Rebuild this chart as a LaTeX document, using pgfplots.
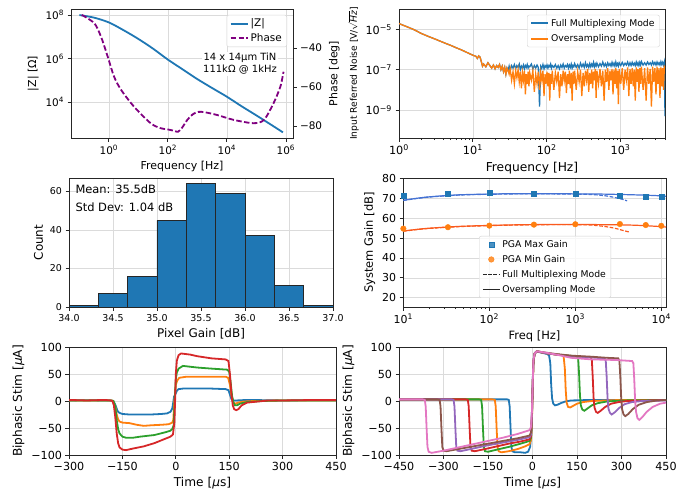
\documentclass[border=0pt]{standalone}
\usepackage{fontspec}
\setmainfont{DejaVu Sans}
\usepackage{pgfplots}
\pgfplotsset{compat=1.18}
\usepackage{pgfplotstable}

\definecolor{tabblue}{HTML}{1F77B4}
\definecolor{taborange}{HTML}{FF7F0E}
\definecolor{tabgreen}{HTML}{2CA02C}
\definecolor{tabred}{HTML}{D62728}
\definecolor{tabpurple}{HTML}{9467BD}
\definecolor{tabbrown}{HTML}{8C564B}
\definecolor{tabpink}{HTML}{E377C2}
\definecolor{phasecol}{HTML}{800080}
\definecolor{fitblue}{HTML}{4472D4}
\definecolor{fitorange}{HTML}{FA5A1E}

\newcommand\fs[1]{\fontsize{#1}{1.2\dimexpr#1pt\relax}\selectfont}

\pgfplotsset{
  mpl/.style={
    scale only axis, anchor=north west,
    axis line style={line width=0.8bp, black!85},
    tick style={black!85, line width=0.8bp},
    tick align=outside, major tick length=3.5bp, minor tick length=2bp,
    tick pos=left,
    grid=major, major grid style={line width=0.6bp, gray!28},
    ticklabel style={font=\fs{9.5}},
    label style={font=\fs{11}},
    /pgf/number format/assume math mode=true,
    legend cell align=left,
    legend style={draw=gray!35, rounded corners=2bp, fill=white, fill opacity=0.8,
      text opacity=1, font=\fs{9.3}, row sep=2bp,
      inner xsep=3bp, inner ysep=2bp, cells={anchor=west}},
  },
}

% noise spectra (Hz, full multiplexing, oversampling)
\pgfplotstableread{
f B O
1 1.9e-5 1.9e-5
1.3 1.3e-5 1.3e-5
1.6 9.5e-6 9.5e-6
2 6.2e-6 6.2e-6
2.5 4.4e-6 4.4e-6
3 3.4e-6 3.4e-6
3.5 2.7e-6 2.7e-6
4 2.2e-6 2.2e-6
5 1.6e-6 1.6e-6
6 1.2e-6 1.2e-6
7 9.5e-7 9.5e-7
8 7.6e-7 7.6e-7
9 6.2e-7 6.2e-7
10 5.2e-7 5.2e-7
11 4.6e-7 4.6e-7
11.5 3.6e-7 3.6e-7
12 4.8e-7 4.8e-7
12.5 4.2e-7 4.2e-7
13 2.6e-7 2.6e-7
13.5 1.5e-7 1.5e-7
14 1.9e-7 1.9e-7
15 1.4e-7 1.4e-7
16 2.2e-7 2.2e-7
17 1.6e-7 1.6e-7
18 1.2e-7 1.2e-7
19 1.7e-7 1.7e-7
20 1.1e-7 1.1e-7
21 1.6e-7 1.6e-7
22 1.3e-7 1.3e-7
23 1.8e-7 1.8e-7
24 1.0e-7 1.0e-7
25 1.5e-7 1.5e-7
26 8e-8 8e-8
27 1.3e-7 1.3e-7
28 6e-8 6e-8
29 1.2e-7 1.2e-7
30 9e-8 9e-8
31 1.5e-7 6e-8
32 9e-8 1.1e-7
33.5 1.6e-7 3e-8
35 1.2e-7 8e-8
36.5 1.8e-7 2e-8
38 1.1e-7 9e-8
39.5 1.6e-7 4e-8
41 1.3e-7 1.0e-7
42.5 1.9e-7 2.5e-8
44 1.0e-7 8e-8
45.5 1.5e-7 1.2e-8
47 1.2e-7 7e-8
48.5 1.7e-7 3e-8
50 1.1e-7 9e-8
51.5 1.6e-7 6e-9
53 1.3e-7 6e-8
54.5 1.8e-7 2e-8
56 1.2e-7 8e-8
57.5 1.5e-7 1.5e-8
59 1.4e-7 7e-8
62 1.9e-7 3e-8
65 1.1e-7 9e-8
68 1.6e-7 8e-9
71 1.2e-7 6e-8
74 1.7e-7 2e-8
77 1.3e-7 8e-8
80 1.5e-9 1e-8
83 1.5e-7 7e-8
86 1.2e-7 3e-8
89 1.8e-7 9e-8
92 1.1e-7 5e-9
95 1.6e-7 6e-8
98 1.3e-7 2e-8
101 1.7e-7 8e-8
104 1.2e-7 1.5e-8
107 1.6e-7 7e-8
110 1.4e-7 3e-9
113 1.9e-7 6e-8
116 1.2e-7 2e-8
119 1.6e-7 9e-8
125 1.3e-7 1e-8
131 1.8e-7 7e-8
137 1.2e-7 2.5e-8
143 1.6e-7 8e-8
149 1.1e-7 4e-9
155 1.7e-7 6e-8
161 1.3e-7 1.5e-8
167 1.9e-7 9e-8
173 1.2e-7 3e-8
179 1.6e-7 8e-8
185 1.4e-7 7e-9
191 1.8e-7 6e-8
197 1.2e-7 2e-8
203 1.7e-7 9e-8
209 1.3e-7 1.2e-8
215 1.9e-7 7e-8
221 1.2e-7 3e-9
227 1.6e-7 8e-8
233 1.4e-7 2e-8
239 2.0e-7 9e-8
251 1.3e-7 1e-8
263 1.8e-7 8e-8
275 1.2e-7 2.5e-8
287 2.1e-7 1.0e-7
299 1.4e-7 5e-9
311 1.9e-7 7e-8
323 1.3e-7 1.5e-8
335 2.2e-7 9e-8
347 1.4e-7 3e-8
359 1.8e-7 1.1e-7
371 1.3e-7 8e-9
383 2.0e-7 7e-8
395 1.4e-7 2e-8
407 1.9e-7 1.0e-7
419 1.5e-7 1.2e-8
431 2.3e-7 8e-8
443 1.4e-7 3e-8
455 1.9e-7 1.1e-7
467 1.5e-7 4e-9
479 2.1e-7 9e-8
503 1.4e-7 2e-8
527 2.0e-7 1.1e-7
551 1.5e-7 1.5e-8
575 2.4e-7 9e-8
599 1.5e-7 3e-9
623 2.0e-7 1.0e-7
647 1.4e-7 2.5e-8
671 2.2e-7 1.2e-7
695 1.6e-7 1e-8
719 2.0e-7 9e-8
743 1.5e-7 3e-8
767 2.3e-7 1.1e-7
791 1.6e-7 6e-9
815 2.1e-7 1.0e-7
839 1.5e-7 2e-8
863 2.4e-7 1.2e-7
887 1.6e-7 1.2e-8
911 2.0e-7 9e-8
935 1.5e-7 2e-9
959 2.2e-7 1.1e-7
1007 1.6e-7 2e-8
1055 2.3e-7 1.2e-7
1103 1.6e-7 1e-8
1151 2.1e-7 1.0e-7
1199 1.7e-7 3e-8
1247 2.4e-7 1.3e-7
1295 1.6e-7 5e-9
1343 2.2e-7 1.1e-7
1391 1.6e-7 2e-8
1439 2.3e-7 1.2e-7
1487 1.7e-7 1.5e-8
1535 2.1e-7 1.0e-7
1583 1.6e-7 3e-9
1631 2.4e-7 1.3e-7
1679 1.7e-7 2.5e-8
1727 2.2e-7 1.1e-7
1775 1.6e-7 8e-9
1823 2.3e-7 1.2e-7
1871 1.7e-7 2e-8
1920 2.5e-7 1.4e-7
2020 1.7e-7 1e-8
2120 2.2e-7 1.2e-7
2220 1.7e-7 3e-9
2320 2.4e-7 1.3e-7
2420 1.8e-7 2e-8
2520 2.2e-7 1.1e-7
2620 1.7e-7 1.5e-9
2720 2.5e-7 1.4e-7
2820 1.8e-7 2.5e-8
2920 2.3e-7 1.2e-7
3020 1.7e-7 6e-9
3120 2.4e-7 1.4e-7
3220 1.8e-7 2e-8
3320 2.2e-7 1.2e-7
3420 1.7e-7 4e-9
3520 2.5e-7 1.3e-7
3620 1.8e-7 1.5e-8
3720 2.3e-7 1.2e-7
3820 1.7e-7 1e-8
3920 2.4e-7 1.4e-7
4000 5e-10 1.2e-7
}\noisetab

\begin{document}
\begin{tikzpicture}
\useasboundingbox (0,0) rectangle (691bp,-492bp);

% ---------- impedance ----------
\begin{axis}[mpl, at={(71bp,-9bp)}, width=222bp, height=129bp,
  xmode=log, ymode=log, xmin=0.052, xmax=1.74e6, ymin=219, ymax=1.9e8,
  ticklabel style={font=\fs{10.5}},
  xtick={1,100,1e4,1e6},
  xticklabels={10\textsuperscript{0},10\textsuperscript{2},10\textsuperscript{4},10\textsuperscript{6}},
  ytick={1e4,1e6,1e8},
  yticklabels={10\textsuperscript{4},10\textsuperscript{6},10\textsuperscript{8}},
  xlabel={Frequency [Hz]}, ylabel={|Z| [Ω]},
  legend style={at={(0.973,0.955)}, anchor=north east, font=\fs{10.5}, row sep=1bp}]
\addplot[tabblue, line width=1.8bp, smooth, forget plot] coordinates {
  (0.1,1e8) (0.316,7.59e7) (1,4.57e7) (3.16,2.0e7) (10,7.94e6) (31.6,2.82e6)
  (100,8.9e5) (316,3.16e5) (1000,1.12e5) (3162,4.37e4) (1e4,1.74e4)
  (31623,6.3e3) (1e5,2.4e3) (316228,891) (7.94e5,398) };
\addlegendimage{tabblue, line width=1.8bp}
\addlegendentry{|Z|}
\addlegendimage{phasecol, line width=1.8bp, dash pattern=on 5.5bp off 2.4bp}
\addlegendentry{Phase}
\end{axis}
\begin{axis}[mpl, at={(71bp,-9bp)}, width=222bp, height=129bp,
  xmode=log, xmin=0.052, xmax=1.74e6, ymin=-86.2, ymax=-20,
  ticklabel style={font=\fs{10.5}},
  axis x line=none, axis y line*=right, ytick pos=right, grid=none,
  ytick={-80,-60,-40}, yticklabels={−80,−60,−40},
  ylabel={Phase [deg]}]
\addplot[phasecol, line width=1.8bp, dash pattern=on 5.5bp off 2.4bp, smooth] coordinates {
  (0.12,-23) (0.32,-27.3) (0.54,-34.2) (0.91,-44.4) (1.5,-54.7) (2.6,-61.5)
  (7.1,-70.1) (26,-78.6) (58,-81.2) (100,-81.8) (160,-82.5) (220,-83)
  (300,-81) (450,-77) (700,-74) (1100,-72.8) (1800,-73) (4700,-74.4)
  (17000,-76.9) (80000,-78.6) (180000,-76.9) (380000,-68.4) (650000,-59.8)
  (830000,-52.2) };
\end{axis}
\node[fill=white, align=center, inner sep=1bp, font=\fs{10}]
  at (240bp,-64bp) {14 x 14µm TiN\\111kΩ @ 1kHz};

% ---------- noise ----------
\begin{axis}[mpl, at={(399bp,-9bp)}, width=266bp, height=129bp,
  xmode=log, ymode=log, xmin=1, xmax=4000, ymin=4.2e-11, ymax=1e-4,
  ticklabel style={font=\fs{11.3}}, xlabel style={font=\fs{12.3}},
  xtick={1,10,100,1000},
  xticklabels={10\textsuperscript{0},10\textsuperscript{1},10\textsuperscript{2},10\textsuperscript{3}},
  minor xtick={2,3,4,5,6,7,8,9,20,30,40,50,60,70,80,90,200,300,400,500,600,700,800,900,2000,3000,4000},
  ytick={1e-9,1e-7,1e-5},
  yticklabels={10\textsuperscript{−9},10\textsuperscript{−7},10\textsuperscript{−5}},
  xlabel={Frequency [Hz]},
  ylabel={Input Referred Noise [V/$\sqrt{\hbox{\itshape Hz}}$]},
  ylabel style={font=\fs{9.2}},
  legend style={at={(0.98,0.955)}, anchor=north east, row sep=3bp}]
\addplot[tabblue, line width=1.3bp, forget plot] table[x=f, y=B] {\noisetab};
\addplot[taborange, line width=1.3bp, forget plot] table[x=f, y=O] {\noisetab};
\addlegendimage{tabblue, line width=1.8bp}
\addlegendentry{Full Multiplexing Mode}
\addlegendimage{taborange, line width=1.8bp}
\addlegendentry{Oversampling Mode}
\end{axis}

% ---------- histogram ----------
\begin{axis}[mpl, at={(69bp,-178bp)}, width=264bp, height=129bp,
  xmin=34, xmax=37, ymin=0, ymax=67,
  label style={font=\fs{12}},
  xtick={34,34.5,35,35.5,36,36.5,37},
  xticklabels={34.0,34.5,35.0,35.5,36.0,36.5,37.0},
  ytick={0,20,40,60}, yticklabels={0,20,40,60},
  xlabel={Pixel Gain [dB]}, ylabel={Count}]
\addplot[ybar interval, fill=tabblue, draw=black!85, line width=0.8bp] coordinates {
  (34,1) (34.333,7) (34.667,16) (35,45) (35.333,64) (35.667,59) (36,37)
  (36.333,11) (36.667,1) (37,1) };
\end{axis}
\node[anchor=north west, align=left, font=\fontsize{11.5}{18}\selectfont]
  at (72bp,-181bp) {Mean: 35.5dB\\Std Dev: 1.04 dB};

% ---------- gain ----------
\begin{axis}[mpl, at={(403bp,-178bp)}, width=263bp, height=129bp,
  xmode=log, xmin=9.9, xmax=11350, ymin=15.3, ymax=80.3,
  ticklabel style={font=\fs{11}}, label style={font=\fs{11.5}},
  xtick={10,100,1000,10000},
  xticklabels={10\textsuperscript{1},10\textsuperscript{2},10\textsuperscript{3},10\textsuperscript{4}},
  minor xtick={20,30,40,50,60,70,80,90,200,300,400,500,600,700,800,900,2000,3000,4000,5000,6000,7000,8000,9000},
  ytick={20,30,40,50,60,70,80}, yticklabels={20,30,40,50,60,70,80},
  xlabel={Freq [Hz]}, ylabel={System Gain [dB]},
  clip mode=individual,
  legend style={at={(0.289,0.07)}, anchor=south west, row sep=2.5bp}]
\addplot[fitblue, line width=1.2bp, smooth, forget plot] coordinates {
  (10,69.1) (15,70.2) (20,70.8) (33,71.5) (50,71.9) (100,72.2) (200,72.4)
  (500,72.4) (1000,72.3) (2000,72.2) (3300,72.0) (5000,71.8) (7000,71.6)
  (10000,71.3) (11350,71.1) };
\addplot[fitblue, line width=1.2bp, dash pattern=on 3.7bp off 1.6bp, smooth, forget plot] coordinates {
  (10,69.0) (15,70.1) (20,70.7) (33,71.4) (50,71.8) (100,72.1) (200,72.3)
  (500,72.3) (1000,72.2) (1500,72.0) (2000,71.6) (2500,71.0) (3000,70.3)
  (3500,69.6) (4000,68.8) };
\addplot[fitorange, line width=1.2bp, smooth, forget plot] coordinates {
  (10,53.6) (15,54.5) (20,55.0) (33,55.6) (50,56.0) (100,56.4) (200,56.7)
  (500,56.9) (1000,56.9) (2000,56.8) (3300,56.7) (5000,56.5) (7000,56.2)
  (10000,55.8) (11350,55.6) };
\addplot[fitorange, line width=1.2bp, dash pattern=on 3.7bp off 1.6bp, smooth, forget plot] coordinates {
  (10,53.5) (15,54.4) (20,54.9) (33,55.5) (50,55.9) (100,56.3) (200,56.6)
  (500,56.8) (1000,56.8) (1500,56.6) (2000,56.1) (2500,55.5) (3000,54.8)
  (3500,54.0) (4300,53.0) };
\addplot[only marks, mark=square*, mark size=2.5bp, tabblue] coordinates {
  (10,71.2) (33,72.2) (100,72.7) (330,72.2) (1000,72.3) (3300,71.4)
  (6600,71.1) (10000,70.7) };
\addlegendentry{PGA Max Gain}
\addplot[only marks, mark=*, mark size=2.8bp, taborange] coordinates {
  (10,54.8) (33,55.5) (100,56.3) (330,56.8) (1000,57.0) (3300,57.1)
  (6600,56.6) (10000,56.2) };
\addlegendentry{PGA Min Gain}
\addlegendimage{black!85, line width=1.2bp, dash pattern=on 3.7bp off 1.6bp}
\addlegendentry{Full Multiplexing Mode}
\addlegendimage{black!85, line width=1.2bp}
\addlegendentry{Oversampling Mode}
\end{axis}

% ---------- biphasic amplitude sweep ----------
\begin{axis}[mpl, at={(69bp,-347bp)}, width=267bp, height=108bp,
  xmin=-300, xmax=450, ymin=-100, ymax=100,
  ticklabel style={font=\fs{11.2}}, label style={font=\fs{12.2}},
  xtick={-300,-150,0,150,300,450}, xticklabels={−300,−150,0,150,300,450},
  ytick={-100,-50,0,50,100}, yticklabels={−100,−50,0,50,100},
  xlabel={Time [{\itshape μ}s]}, ylabel={Biphasic Stim [{\itshape μ}A]},
  every axis plot/.append style={line width=1.8bp}]
\addplot[tabblue] coordinates {
  (-300,1) (-250,1.5) (-200,1) (-185,1) (-178,0) (-172,-4) (-168,-10) (-165,-16)
  (-162,-20) (-158,-22) (-150,-24) (-130,-25) (-100,-25) (-70,-25) (-40,-24)
  (-25,-23) (-15,-20) (-10,-14) (-7,-2) (-5,8) (0,14) (3,19) (8,22) (20,23)
  (50,23) (100,23) (140,22) (148,20) (152,12) (156,4) (160,1) (170,1) (200,2)
  (250,1.5) (300,1) (400,1.5) (450,1.5) };
\addplot[taborange] coordinates {
  (-300,1) (-180,1) (-175,-2) (-170,-10) (-166,-25) (-162,-34) (-158,-38)
  (-150,-40) (-130,-41) (-110,-44) (-90,-46) (-70,-45) (-40,-44) (-20,-43)
  (-10,-40) (-7,-35) (-4,0) (0,30) (4,38) (10,43) (30,45) (80,45) (140,45)
  (147,43) (152,30) (157,8) (162,-3) (168,-5) (175,-3) (190,-1) (220,0)
  (300,1) (450,1) };
\addplot[tabgreen] coordinates {
  (-300,1) (-180,1) (-175,0) (-170,-10) (-166,-35) (-162,-52) (-158,-60)
  (-150,-66) (-140,-68) (-120,-68) (-100,-66) (-60,-63) (-30,-58) (-15,-55)
  (-10,-52) (-6,-45) (-3,0) (0,40) (3,53) (8,60) (20,65) (60,62) (100,60)
  (145,58) (150,54) (154,35) (158,10) (162,-3) (166,-8) (172,-8) (180,-5)
  (200,-2) (240,0) (300,1) (450,1) };
\addplot[tabred] coordinates {
  (-300,2) (-250,1) (-200,2) (-182,1) (-178,0) (-174,-8) (-170,-30) (-166,-60)
  (-162,-78) (-158,-86) (-150,-90) (-140,-91) (-120,-88) (-90,-84) (-60,-78)
  (-30,-70) (-15,-66) (-8,-62) (-4,-40) (-2,0) (0,50) (3,75) (8,85) (15,88)
  (40,86) (60,83) (100,79) (140,77) (148,74) (152,50) (156,15) (160,-8)
  (164,-15) (170,-17) (176,-15) (185,-8) (200,-3) (230,-1) (260,1) (300,1)
  (400,2) (450,2) };
\end{axis}

% ---------- biphasic width sweep ----------
\begin{axis}[mpl, at={(399bp,-347bp)}, width=267bp, height=108bp,
  xmin=-450, xmax=450, ymin=-100, ymax=100,
  ticklabel style={font=\fs{11.2}}, label style={font=\fs{12.2}},
  xtick={-450,-300,-150,0,150,300,450}, xticklabels={−450,−300,−150,0,150,300,450},
  ytick={-100,-50,0,50,100}, yticklabels={−100,−50,0,50,100},
  xlabel={Time [{\itshape μ}s]}, ylabel={Biphasic Stim [{\itshape μ}A]},
  every axis plot/.append style={line width=1.8bp}]
\addplot[tabblue] coordinates {
  (-450,3) (-200,3) (-85,3) (-80,2) (-77,-10) (-74,-50) (-71,-85) (-68,-93)
  (-60,-95) (-40,-95) (-25,-96) (-15,-94) (-8,-85) (-4,-60) (-1,0) (2,60)
  (5,82) (10,90) (18,91) (35,89) (50,87) (56,84) (60,70) (63,30) (66,5)
  (70,-5) (76,-8) (84,-7) (95,-4) (110,-1) (130,1) (200,2) (300,2) (450,2) };
\addplot[taborange] coordinates {
  (-450,3) (-135,3) (-127,2) (-124,-10) (-121,-50) (-118,-85) (-114,-93)
  (-105,-95) (-80,-93) (-50,-89) (-25,-84) (-10,-80) (-5,-72) (-2,-40) (0,10)
  (3,70) (7,88) (15,92) (40,89) (80,86) (100,85) (105,82) (109,60) (112,20)
  (115,-3) (120,-11) (127,-12) (137,-9) (150,-5) (170,-2) (200,0) (300,2)
  (450,2) };
\addplot[tabgreen] coordinates {
  (-450,3) (-180,3) (-173,2) (-170,-10) (-167,-50) (-164,-85) (-160,-93)
  (-150,-94) (-120,-90) (-80,-85) (-40,-79) (-10,-74) (-5,-68) (-2,-35)
  (0,15) (3,72) (7,88) (15,92) (40,89) (80,86) (120,84) (150,83) (154,78)
  (157,50) (160,10) (163,-8) (168,-16) (175,-18) (185,-14) (200,-8) (220,-4)
  (250,-1) (300,1) (450,2) };
\addplot[tabred] coordinates {
  (-450,3) (-225,3) (-218,2) (-215,-10) (-212,-50) (-209,-85) (-205,-92)
  (-195,-93) (-160,-89) (-120,-84) (-80,-79) (-40,-75) (-10,-71) (-5,-65)
  (-2,-30) (0,15) (3,72) (7,88) (15,92) (40,89) (80,86) (120,84) (160,82)
  (196,81) (200,76) (203,45) (206,5) (209,-12) (214,-20) (220,-22) (230,-18)
  (245,-11) (265,-5) (290,-2) (320,0) (450,2) };
\addplot[tabpurple] coordinates {
  (-450,3) (-272,3) (-266,2) (-263,-10) (-260,-50) (-257,-85) (-253,-92)
  (-243,-93) (-200,-88) (-150,-82) (-100,-77) (-50,-72) (-10,-67) (-5,-62)
  (-2,-30) (0,15) (3,72) (7,88) (15,92) (40,89) (80,86) (130,83) (190,81)
  (243,79) (247,74) (250,45) (253,5) (256,-14) (261,-22) (267,-25) (277,-21)
  (292,-13) (310,-6) (335,-2) (370,0) (450,1) };
\addplot[tabbrown] coordinates {
  (-450,3) (-320,3) (-313,2) (-310,-10) (-307,-50) (-304,-85) (-300,-92)
  (-290,-93) (-250,-89) (-200,-84) (-150,-79) (-100,-74) (-50,-69) (-10,-64)
  (-5,-58) (-2,-25) (0,15) (3,72) (7,88) (15,92) (40,90) (80,87) (130,84)
  (200,82) (250,80) (289,79) (293,74) (296,45) (299,5) (302,-15) (307,-25)
  (313,-28) (323,-24) (338,-15) (358,-7) (385,-2) (420,1) (450,2) };
\addplot[tabpink] coordinates {
  (-450,3) (-370,3) (-363,2) (-360,-10) (-357,-50) (-354,-85) (-350,-94)
  (-340,-96) (-300,-92) (-250,-86) (-200,-80) (-150,-74) (-100,-68) (-50,-61)
  (-10,-54) (-5,-48) (-2,-20) (0,20) (3,75) (7,88) (15,92) (40,90) (80,86)
  (130,80) (200,77) (280,76) (336,74) (340,70) (343,40) (346,0) (349,-20)
  (354,-32) (360,-35) (370,-30) (385,-20) (405,-11) (430,-5) (450,-3) };
\end{axis}
\end{tikzpicture}
\end{document}
